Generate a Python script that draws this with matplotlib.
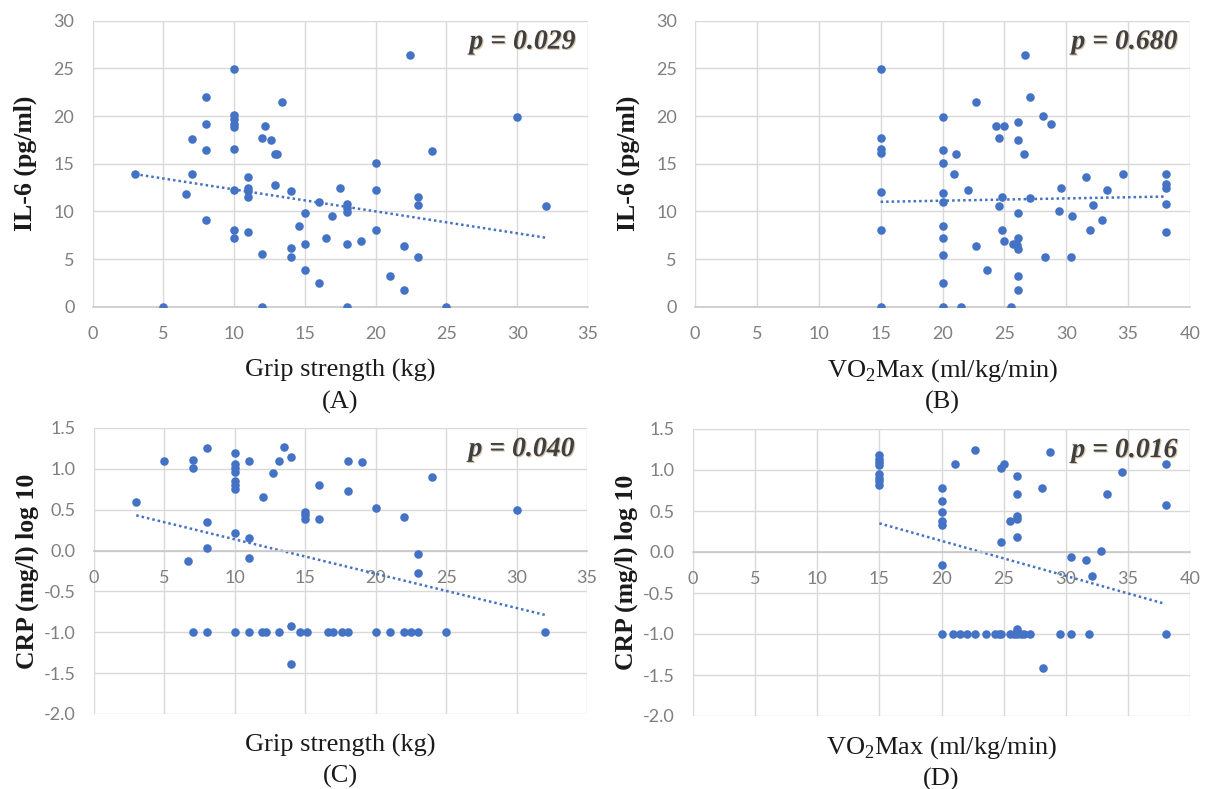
import numpy as np
import matplotlib
matplotlib.use("Agg")
import matplotlib.pyplot as plt
import matplotlib.patheffects as pe

plt.rcParams['axes.unicode_minus'] = False
plt.rcParams['mathtext.fontset'] = 'custom'
plt.rcParams['mathtext.rm'] = 'Liberation Serif'

# Panel A: grip strength vs IL-6
grip_a = [3, 5, 7, 7, 6.6, 8, 8, 8, 8, 10, 10, 10, 10, 10, 10, 10, 10, 10,
          11, 11, 11, 11, 11, 12, 12, 12, 12.2, 12.6, 12.9, 13.05, 12.9, 13.4,
          14, 14, 14, 14.6, 15, 15, 15, 16, 16, 16.5, 16.9, 17.5, 18, 18, 18, 18, 18,
          19, 20, 20, 20, 21, 22, 22, 22.4, 23, 23, 23, 24, 25, 30, 32]
il6_a = [13.9, 0, 13.9, 17.6, 11.8, 22, 19.2, 16.4, 9.1, 24.9, 20.1, 19.65, 19.2, 18.9,
         16.5, 12.2, 8.0, 7.2, 13.6, 12.5, 12.1, 11.5, 7.8, 17.7, 5.5, 0, 19.0, 17.5,
         16.0, 16.0, 12.8, 21.5, 12.1, 6.2, 5.2, 8.5, 9.8, 6.6, 3.8, 11.0, 2.5, 7.2,
         9.5, 12.4, 10.8, 10.4, 9.9, 6.6, 0, 6.85, 15.1, 12.2, 8.0, 3.2, 6.4, 1.8,
         26.4, 11.5, 10.7, 5.2, 16.3, 0, 19.9, 10.6]

# Panel B: VO2Max vs IL-6
vo2_b = [15, 15, 15, 15, 15, 15, 15,
         20, 20, 20, 20, 20, 20, 20, 20, 20, 20,
         21.1, 20.9, 21.5, 22.1, 22.7, 22.7, 23.6, 24.3, 25.0, 24.6, 24.6, 24.8, 24.8,
         25.0, 25.5, 25.7, 26.0, 26.1, 26.1, 26.1, 26.1, 26.1, 26.1, 26.1, 26.6, 26.7,
         27.1, 27.1, 28.1, 28.8, 28.3, 29.4, 29.6, 30.5, 30.4, 31.6, 32.2, 31.9, 32.9,
         33.3, 34.6, 38.1, 38.1, 38.1, 38.1, 38.1]
il6_b = [24.9, 17.66, 16.5, 16.15, 12.0, 8.0, 0,
         19.9, 16.4, 15.1, 11.9, 11.0, 8.5, 7.2, 5.45, 2.5, 0,
         16.0, 13.9, 0, 12.2, 21.5, 6.4, 3.8, 19.0, 19.0, 17.7, 10.6, 11.5, 8.0,
         6.85, 0, 6.6, 6.5, 7.2, 6.1, 19.4, 17.5, 9.8, 3.2, 1.8, 16.0, 26.4,
         22.0, 11.4, 20.0, 19.2, 5.2, 10.0, 12.4, 9.5, 5.2, 13.6, 10.7, 8.0, 9.1,
         12.2, 13.9, 13.9, 12.9, 12.4, 10.8, 7.8]

# Panel C: grip strength vs log CRP
grip_c = [3, 5, 7, 7, 6.7, 8, 8, 8, 8, 7,
          10, 10, 10, 10, 10, 10, 10, 10, 10,
          11, 11, 11, 11, 12, 11.9, 12.2, 12.7, 13.1, 13.1, 13.5, 14, 14, 14,
          15, 15, 15, 14.6, 15.1, 16, 16, 16.6, 17, 17.6, 18, 18, 18, 19,
          20, 20, 21, 22, 22, 22.5, 23, 23, 23, 24, 25, 30, 32]
crp_c = [0.60, 1.10, 1.11, 1.01, -0.13, 1.25, 0.35, 0.03, -1.0, -1.0,
         1.19, 1.065, 1.01, 0.96, 0.85, 0.80, 0.75, 0.21, -1.0,
         1.10, 0.15, -0.085, -1.0, 0.65, -1.0, -1.0, 0.95, -1.0, 1.10, 1.27, 1.14, -0.92, -1.39,
         0.475, 0.43, 0.39, -1.0, -1.0, 0.80, 0.39, -1.0, -1.0, -1.0, -1.0, 1.10, 0.73, 1.09,
         0.52, -1.0, -1.0, 0.415, -1.0, -1.0, -1.0, -0.04, -0.28, 0.90, -1.0, 0.50, -1.0]

# Panel D: VO2Max vs log CRP
vo2_d = [15, 15, 15, 15, 15, 15, 15, 15,
         20, 20, 20, 20, 20, 20, 20,
         21.1, 22.7, 24.8, 25.0, 24.8, 26.1, 26.1, 26.1, 26.1, 25.5, 26.1, 28.1, 28.7,
         30.4, 31.6, 32.1, 32.8, 33.3, 34.5, 38.1, 38.1,
         20.9, 21.5, 22.05, 22.7, 23.6, 24.3, 24.6, 24.8, 25.5, 25.8, 26.1, 26.4, 26.6,
         27.1, 29.5, 30.4, 31.9, 38.1, 26.1, 28.2]
crp_d = [1.18, 1.14, 1.10, 1.06, 0.95, 0.90, 0.86, 0.82,
         0.78, 0.62, 0.49, 0.38, 0.33, -0.155, -1.0,
         1.07, 1.25, 1.03, 1.07, 0.12, 0.93, 0.71, 0.44, 0.40, 0.38, 0.18, 0.78, 1.22,
         -0.06, -0.10, -0.29, 0.01, 0.71, 0.98, 1.07, 0.57,
         -1.0, -1.0, -1.0, -1.0, -1.0, -1.0, -1.0, -1.0, -1.0, -1.0, -1.0, -1.0, -1.0,
         -1.0, -1.0, -1.0, -1.0, -1.0, -0.94, -1.42]

# linear trend lines (slope, intercept, x from, x to)
trend_a = [-0.23, 14.6, 3, 32]
trend_b = [0.024, 10.64, 15, 38]
trend_c = [-0.042, 0.557, 3, 32]
trend_d = [-0.0427, 0.99, 15, 38]

p_values = ['0.029', '0.680', '0.040', '0.016']
panel_tags = ['(A)', '(B)', '(C)', '(D)']
xlabels = ['Grip strength (kg)', r'VO$_\mathregular{2}$Max (ml/kg/min)',
           'Grip strength (kg)', r'VO$_\mathregular{2}$Max (ml/kg/min)']
ylabels = ['IL-6 (pg/ml)', 'IL-6 (pg/ml)', 'CRP (mg/l) log 10', 'CRP (mg/l) log 10']

BLUE = '#4472C4'
GRID = '#d9d9d9'
TICK = '#7f7f7f'
SERIF = 'Liberation Serif'

W, H = 1205, 789
fig = plt.figure(figsize=(W / 100, H / 100), dpi=100)

# axes boxes in pixels: left, top, right, bottom
boxes = [(92.5, 20.7, 588, 306.7),
         (695, 20.7, 1190, 306.7),
         (94, 428, 587, 714),
         (693, 429, 1190, 716)]

panels = [(grip_a, il6_a, trend_a), (vo2_b, il6_b, trend_b),
          (grip_c, crp_c, trend_c), (vo2_d, crp_d, trend_d)]

for i, (xs, ys, tr) in enumerate(panels):
    l, t, r, b = boxes[i]
    ax = fig.add_axes([l / W, 1 - b / H, (r - l) / W, (b - t) / H])
    ax.scatter(xs, ys, s=38, color=BLUE, zorder=3, linewidths=0)
    tx = np.array([tr[2], tr[3]])
    ax.plot(tx, tr[0] * tx + tr[1], color=BLUE, lw=1.8, ls=(0, (1, 1.2)), zorder=2)

    if i < 2:
        ax.set_ylim(0, 30)
        ax.set_yticks(np.arange(0, 31, 5))
    else:
        ax.set_ylim(-2.0, 1.5)
        ax.set_yticks(np.arange(-2.0, 1.51, 0.5))
        ax.yaxis.set_major_formatter(plt.FormatStrFormatter('%.1f'))
    if i % 2 == 0:
        ax.set_xlim(0, 35)
        ax.set_xticks(np.arange(0, 36, 5))
    else:
        ax.set_xlim(0, 40)
        ax.set_xticks(np.arange(0, 41, 5))

    for s in ['top', 'right', 'left']:
        ax.spines[s].set_visible(False)
    ax.spines['bottom'].set_position(('data', 0))
    ax.spines['bottom'].set_color('#c8c8c8')
    ax.spines['bottom'].set_linewidth(1.2)
    ax.grid(True, color=GRID, lw=1.0, zorder=0)
    ax.set_axisbelow(True)
    ax.tick_params(length=0, labelsize=13, labelcolor=TICK)
    ax.tick_params(axis='x', pad=14)
    ax.tick_params(axis='y', pad=13)
    for lab in ax.get_xticklabels() + ax.get_yticklabels():
        lab.set_fontfamily('Lato')

    # labels
    if i < 2:
        xl_y, tag_y = -0.222, -0.335
    else:
        xl_y, tag_y = -0.11, -0.22
    ax.text(0.5, xl_y, xlabels[i], transform=ax.transAxes, ha='center', va='center',
            fontsize=19, family=SERIF, color='#1a1a1a')
    ax.text(0.5, tag_y, panel_tags[i], transform=ax.transAxes, ha='center', va='center',
            fontsize=19, family=SERIF, color='#1a1a1a')
    ax.text(-0.135, 0.5, ylabels[i], transform=ax.transAxes, ha='center', va='center',
            rotation=90, fontsize=18.5, family=SERIF, fontweight='bold', color='#1a1a1a')
    ax.text(0.975, 0.925, 'p = ' + p_values[i], transform=ax.transAxes, ha='right',
            va='center', fontsize=20, family=SERIF, fontweight='bold', fontstyle='italic',
            color='#404040',
            path_effects=[pe.withSimplePatchShadow(offset=(0.8, -0.8), shadow_rgbFace='#b08a5a',
                                                   alpha=0.5)])

fig.savefig('out.png', dpi=100)
